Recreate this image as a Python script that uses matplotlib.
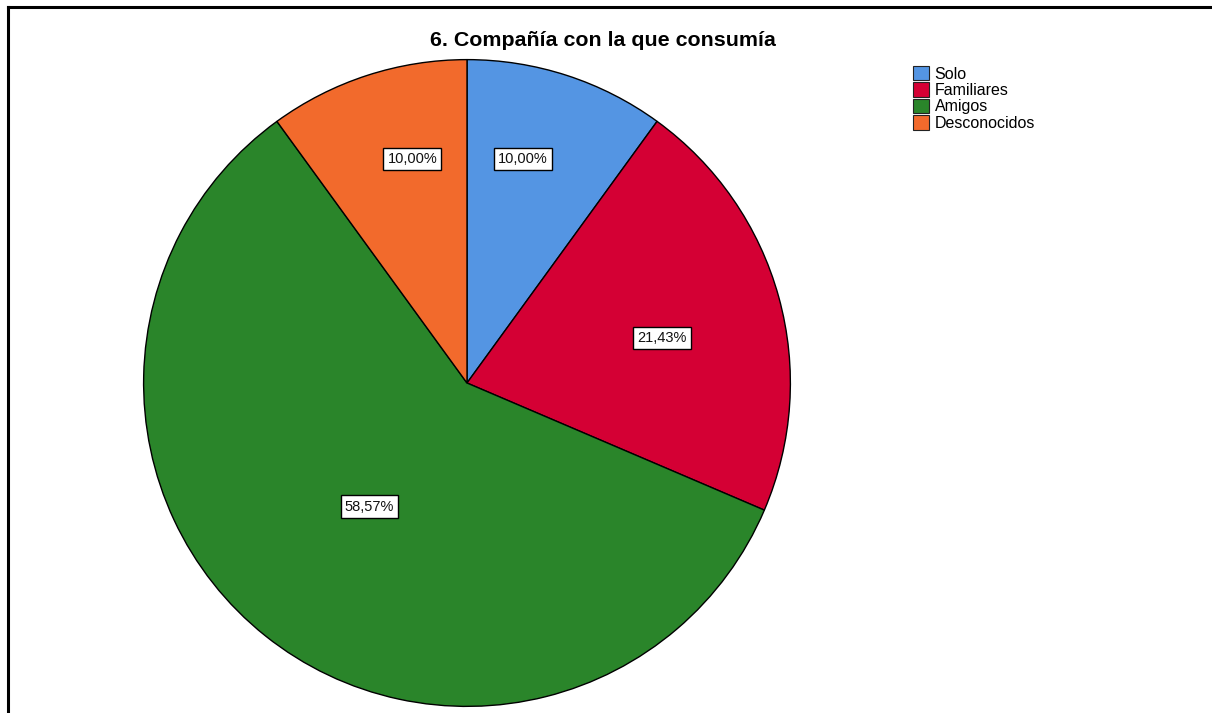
import matplotlib
matplotlib.use("Agg")
import matplotlib.pyplot as plt
from matplotlib.patches import Patch
from matplotlib.lines import Line2D

plt.rcParams['font.family'] = ['Liberation Sans', 'DejaVu Sans']

title = "6. Compañía con la que consumía"
categories = ["Solo", "Familiares", "Amigos", "Desconocidos"]
percentages = [10.00, 21.43, 58.57, 10.00]
colors = ["#5495E3", "#D40034", "#2A852A", "#F26A2C"]
# label anchors in pie-radius units
label_xy = [(0.172, 0.692), (0.603, 0.138), (-0.302, -0.382), (-0.169, 0.692)]

W, H = 1212, 713
fig = plt.figure(figsize=(W / 100, H / 100), dpi=100)
fig.patch.set_facecolor("white")

cx, cy, R = 467, 383, 325
ax = fig.add_axes([(cx - R) / W, (H - cy - R) / H, 2 * R / W, 2 * R / H])
ax.pie(percentages, colors=colors, startangle=90, counterclock=False,
       radius=1, wedgeprops=dict(edgecolor="black", linewidth=1.0))
ax.set_xlim(-1.005, 1.005)
ax.set_ylim(-1.005, 1.005)
ax.axis("off")

for (x, y), p in zip(label_xy, percentages):
    ax.text(x, y, f"{p:.2f}%".replace(".", ","), ha="center", va="center",
            fontsize=10.5, color="#111111",
            bbox=dict(boxstyle="square,pad=0.28", facecolor="white",
                      edgecolor="black", linewidth=1.0))

fig.text(603 / W, 1 - 41 / H, title, ha="center", va="center",
         fontsize=15.4, fontweight="bold")

handles = [Patch(facecolor=c, edgecolor="#222222", linewidth=0.8) for c in colors]
fig.legend(handles, categories, loc="upper left",
           bbox_to_anchor=(913 / W, 1 - 66 / H), frameon=False,
           fontsize=11.5, handlelength=1.0, handleheight=1.0,
           handletextpad=0.35, labelspacing=0.05, borderpad=0, borderaxespad=0)

# outer frame (top and left edges)
fig.add_artist(Line2D([8 / W, 1.0], [1 - 7 / H, 1 - 7 / H], transform=fig.transFigure,
                      color="black", linewidth=2.2))
fig.add_artist(Line2D([8 / W, 8 / W], [0.0, 1 - 7 / H], transform=fig.transFigure,
                      color="black", linewidth=2.2))

fig.savefig("out.png", dpi=100, facecolor="white")
